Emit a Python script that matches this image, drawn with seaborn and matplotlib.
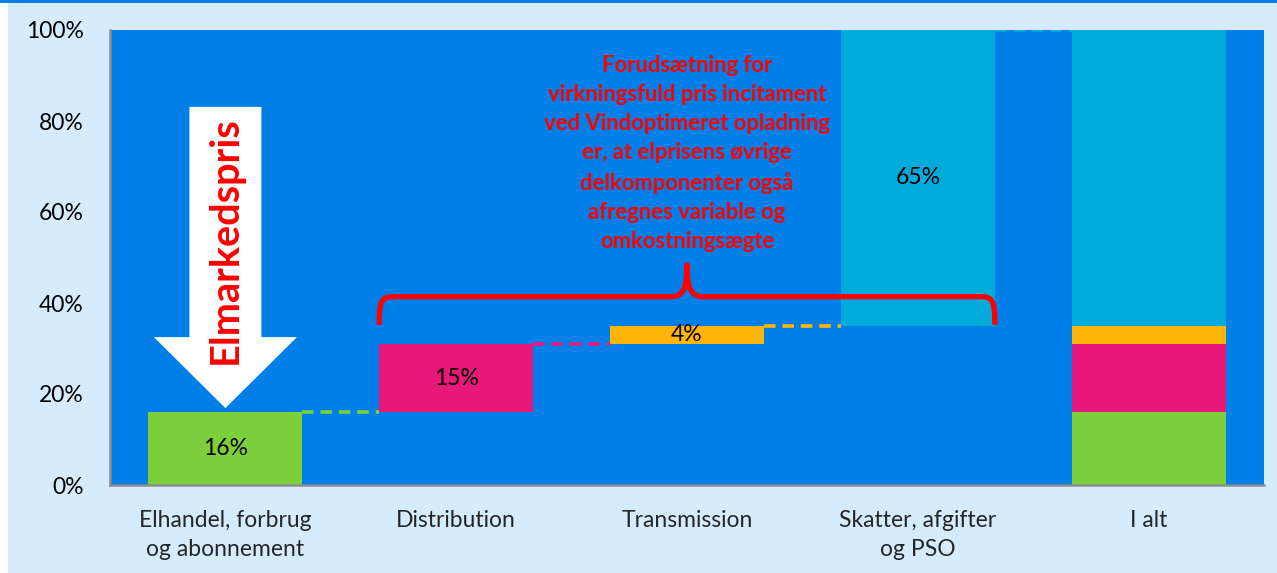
import numpy as np
import pandas as pd
import matplotlib
matplotlib.use("Agg")
import matplotlib.pyplot as plt
from matplotlib.patches import Polygon, PathPatch, Rectangle
from matplotlib.path import Path
import seaborn as sns

# ---------------- data ----------------
categories = ["Elhandel, forbrug\nog abonnement", "Distribution", "Transmission",
              "Skatter, afgifter\nog PSO", "I alt"]
components = [16, 15, 4, 65]            # waterfall steps (percent)
labels = ["16%", "15%", "4%", "65%"]
comp_colors = ["#7DCF3B", "#E8187A", "#FFB60A", "#00ABDC"]
y_ticks = [0, 20, 40, 60, 80, 100]
y_ticklabels = ["0%", "20%", "40%", "60%", "80%", "100%"]
annotation = ("Forudsætning for\nvirkningsfuld pris incitament\nved Vindoptimeret opladning\n"
              "er, at elprisens øvrige\ndelkomponenter også\nafregnes variable og\nomkostningsægte")
arrow_label = "Elmarkedspris"

BG_FIG = "#D6EBFD"
BG_AX = "#007FE8"
BAR_W = 0.667
FS = 16.5

sns.set_theme(style="white")
plt.rcParams["font.family"] = ["Lato", "DejaVu Sans"]

fig = plt.figure(figsize=(12.77, 5.73), dpi=100, facecolor=BG_FIG)
ax = fig.add_axes([110 / 1277, 88 / 573, 1154 / 1277, 455 / 573])
ax.set_facecolor(BG_AX)

bases = np.concatenate([[0], np.cumsum(components)[:-1]])
tops = np.cumsum(components)

# waterfall bars
for i, (v, b, c) in enumerate(zip(components, bases, comp_colors)):
    df = pd.DataFrame({"cat": [categories[i]], "val": [v]})
    sns.barplot(data=df, x="cat", y="val", order=categories, color=c, saturation=1,
                width=BAR_W, bottom=b, linewidth=0, ax=ax)
    ax.text(i, b + v / 2, labels[i], ha="center", va="center", fontsize=FS, color="black")

# total stacked bar
for v, b, c in zip(components, bases, comp_colors):
    df = pd.DataFrame({"cat": [categories[-1]], "val": [v]})
    sns.barplot(data=df, x="cat", y="val", order=categories, color=c, saturation=1,
                width=BAR_W, bottom=b, linewidth=0, ax=ax)

# dashed connectors
for i, (t, c) in enumerate(zip(tops, comp_colors)):
    ax.plot([i + BAR_W / 2, i + 1 - BAR_W / 2], [t, t], color=c, lw=2.6,
            dashes=(3.2, 1.9), solid_capstyle="butt", dash_capstyle="butt", zorder=3)

ax.set_xlim(-0.5, len(categories) - 0.5)
ax.set_ylim(0, 100)
ax.set_xlabel("")
ax.set_ylabel("")

# ticks
ax.set_yticks(y_ticks)
ax.set_yticklabels(y_ticklabels)
ax.set_xticks(np.arange(len(categories) + 1) - 0.5)
ax.set_xticklabels([""] * (len(categories) + 1))
ax.set_xticks(np.arange(len(categories)), minor=True)
ax.set_xticklabels(categories, minor=True, linespacing=1.45)
ax.tick_params(axis="x", which="minor", length=0, pad=18, labelsize=FS)
ax.tick_params(axis="x", which="major", length=5, width=1.5, color="#8C8C8C", direction="out")
ax.tick_params(axis="y", which="major", length=5, width=1.5, color="#8C8C8C", direction="out",
               pad=14, labelsize=FS)
ax.tick_params(labelcolor="black")
for s in ["top", "right"]:
    ax.spines[s].set_visible(False)
for s in ["left", "bottom"]:
    ax.spines[s].set_color("#8C8C8C")
    ax.spines[s].set_linewidth(1.8)

# white arrow with label
cx = 0
poly = Polygon([(cx - 0.156, 83.1), (cx + 0.156, 83.1), (cx + 0.156, 32.5), (cx + 0.31, 32.5),
                (cx, 16.9), (cx - 0.31, 32.5), (cx - 0.156, 32.5)], closed=True,
               facecolor="white", edgecolor="none", zorder=4)
ax.add_patch(poly)
ax.text(cx, 53.8, arrow_label, rotation=90, ha="center", va="center", fontsize=28.5,
        fontweight="bold", color="#FF0000", zorder=5)

# curly brace
xl, xr, xm = 1 - BAR_W / 2, 3 + BAR_W / 2, 2.0
yb, yh, yt = 35.2, 41.4, 48.4
verts = [(xl, yb), (xl, yh - 0.5), (xl + 0.01, yh), (xl + 0.07, yh),
         (xm - 0.07, yh),
         (xm - 0.02, yh), (xm, yh + 1.5), (xm, yt),
         (xm, yh + 1.5), (xm + 0.02, yh), (xm + 0.07, yh),
         (xr - 0.07, yh),
         (xr - 0.01, yh), (xr, yh - 0.5), (xr, yb)]
codes = [Path.MOVETO, Path.CURVE4, Path.CURVE4, Path.CURVE4,
         Path.LINETO,
         Path.CURVE4, Path.CURVE4, Path.CURVE4,
         Path.CURVE4, Path.CURVE4, Path.CURVE4,
         Path.LINETO,
         Path.CURVE4, Path.CURVE4, Path.CURVE4]
ax.add_patch(PathPatch(Path(verts, codes), facecolor="none", edgecolor="#FF0000",
                       lw=3.8, capstyle="butt", joinstyle="round", zorder=5))

ax.text(xm, 72.9, annotation, ha="center", va="center", fontsize=15.8, fontweight="bold",
        color="#FF0000", linespacing=1.48, zorder=5)

# figure decorations: top blue rule, white left margin
fig.patches.append(Rectangle((0, 1 - 3 / 573), 1, 3 / 573, transform=fig.transFigure,
                             facecolor=BG_AX, edgecolor="none", zorder=-1))
fig.patches.append(Rectangle((0, 0), 8 / 1277, 1 - 3 / 573, transform=fig.transFigure,
                             facecolor="white", edgecolor="none", zorder=-1))

fig.savefig("out.png", dpi=100, facecolor=BG_FIG)
